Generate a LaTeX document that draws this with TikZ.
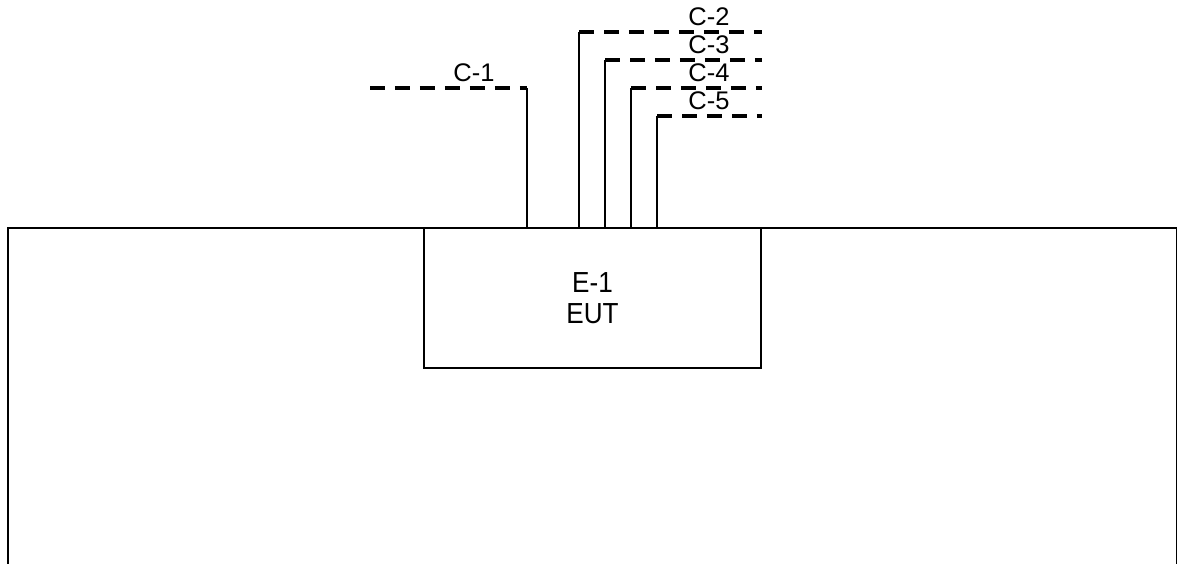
\documentclass[tikz,border=0pt]{standalone}
\usepackage{fontspec}
\setmainfont{Liberation Sans}
\newfontfamily\eutfont[FakeStretch=0.9]{Liberation Sans}
\begin{document}
\begin{tikzpicture}[x=0.02cm,y=-0.02cm,
    wire/.style={line width=0.8pt},
    cable/.style={line width=2pt,dash pattern=on 0.3cm off 0.2cm},
    eutbox/.style={draw,line width=0.8pt,minimum width=6.74cm,minimum height=2.8cm,
      align=center,font=\eutfont\fontsize{16.5}{18}\selectfont},
    tag/.style={anchor=base,inner sep=0pt,font=\fontsize{14.5}{16}\selectfont}]
    \useasboundingbox (0,0) rectangle (1177,564);
    \draw[wire] (8,564) -- (8,228) -- (1176.5,228) -- (1176.5,564);
    \node[eutbox] (eut) at (592.5,298) {E-1\\EUT};
    \coordinate (c1) at (527,88);
    \coordinate (c1end) at (370,88);
    \draw[wire] (eut.north -| c1) -- (c1);
    \draw[cable] (c1end) -- (c1);
    \node[tag] (lab1) at (474,82) {C-1};
    \foreach \n/\x/\y in {2/579/32,3/605/60,4/631/88,5/657/116} {
      \coordinate (c\n) at (\x,\y);
      \coordinate (c\n end) at (762,\y);
      \draw[wire] (eut.north -| c\n) -- (c\n);
      \draw[cable] (c\n) -- (c\n end);
      \node[tag] (lab\n) at (709,\y-6) {C-\n};
    }
\end{tikzpicture}
\end{document}
